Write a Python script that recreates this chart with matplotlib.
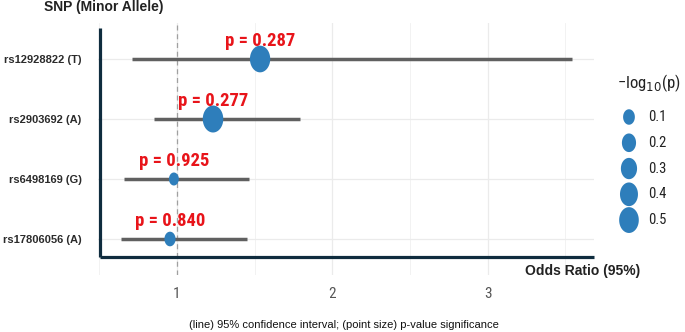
import numpy as np
import matplotlib
matplotlib.use("Agg")
import matplotlib.pyplot as plt
import matplotlib.transforms as mtransforms

plt.rcParams['font.family'] = ['Liberation Sans', 'DejaVu Sans']
NARROW = ['Roboto Condensed', 'Barlow Semi Condensed', 'Liberation Sans']

# data, top row first
snps = ["rs12928822 (T)", "rs2903692 (A)", "rs6498169 (G)", "rs17806056 (A)"]
odds_ratio = [1.535, 1.232, 0.980, 0.955]
ci_low = [0.708, 0.852, 0.658, 0.637]
ci_high = [3.542, 1.790, 1.466, 1.453]
p_values = [0.287, 0.277, 0.925, 0.840]
legend_breaks = [0.1, 0.2, 0.3, 0.4, 0.5]
x_ticks = [1, 2, 3]

blue = "#2E7EBB"
navy = "#0F2C3E"
dpi = 100

neglog = -np.log10(np.array(p_values))
rows = np.arange(len(snps), 0, -1)  # 4 .. 1

# area-proportional size scale (diameter in px), like scale_size in ggplot
d_min, d_max = 13.0, 27.0
v_min, v_max = neglog.min(), neglog.max()


def diam(v):
    a = d_min ** 2 + (d_max ** 2 - d_min ** 2) * (np.asarray(v) - v_min) / (v_max - v_min)
    return np.sqrt(np.clip(a, d_min ** 2, None))


def s_pts(d_px):
    return (np.asarray(d_px) * 72.0 / dpi) ** 2


# slightly tall ellipse, as in the source picture
t = np.linspace(0, 2 * np.pi, 60)
ellipse = np.column_stack([0.76 * np.cos(t), np.sin(t)])

fig = plt.figure(figsize=(6.85, 3.32), dpi=dpi)
ax = fig.add_axes([0.1432, 0.1717, 0.7244, 0.759])

ax.set_xlim(0.492, 3.687)
ax.set_ylim(0.4, 4.6)

# grid
for x in [0.5, 1.5, 2.5, 3.5]:
    ax.axvline(x, color="#F0F0F0", lw=0.6, zorder=0)
for x in x_ticks:
    ax.axvline(x, color="#EBEBEB", lw=0.9, zorder=0)
for y in rows:
    ax.axhline(y, color="#EBEBEB", lw=0.9, zorder=0)
ax.axvline(1, color="#A0A0A0", lw=0.9, ls=(0, (4, 3)), zorder=1)

# confidence intervals and points
ax.hlines(rows, ci_low, ci_high, color="#606060", lw=2.5, zorder=2)
ax.scatter(odds_ratio, rows, s=s_pts(diam(neglog)), marker=ellipse,
           color=blue, edgecolors="none", zorder=3)

for x, y, p in zip(odds_ratio, rows, p_values):
    ax.annotate(f"p = {p:.3f}", (x, y), xytext=(0, 9.6), textcoords="offset points",
                ha="center", va="baseline", color="#E8141A", fontsize=13.4,
                fontweight="bold", family=NARROW, zorder=4)

ax.set_xticks(x_ticks)
ax.set_xticklabels([str(x) for x in x_ticks], family=NARROW,
                   fontsize=11, color="#555555")
ax.set_yticks(rows)
ax.set_yticklabels(snps, fontsize=8.0, fontweight="bold", color="#2B2B2B")
ax.tick_params(axis="x", length=0, pad=9)
ax.tick_params(axis="y", length=0, pad=12)
for sp in ax.spines.values():
    sp.set_visible(False)

ax.set_xlabel("Odds Ratio (95%)", fontsize=10, fontweight="bold", color="#222222")
ax.xaxis.set_label_coords(1.092, 0.016)
ax.xaxis.label.set_ha("right")
ax.xaxis.label.set_va("center")
ax.set_ylabel("SNP (Minor Allele)", fontsize=10, fontweight="bold", color="#222222",
              rotation=0)
ax.yaxis.set_label_coords(0.012, 1.062)
ax.yaxis.label.set_ha("center")
ax.yaxis.label.set_va("center")

# dark L-shaped axis lines drawn over the panel
trans = mtransforms.blended_transform_factory(ax.transData, ax.transAxes)
ax.plot([0.505, 0.505], [0.071, 0.98], color=navy, lw=2.3, transform=trans,
        clip_on=False, solid_capstyle="butt", zorder=5)
ax.plot([0.505, 3.685], [0.071, 0.071], color=navy, lw=2.3, transform=trans,
        clip_on=False, solid_capstyle="butt", zorder=5)

# size legend
lax = fig.add_axes([610 / 685, 1 - 235 / 332, 75 / 685, 135 / 332])
lax.set_xlim(0, 1)
lax.set_ylim(5.58, 0.34)
lax.axis("off")
ly = np.arange(1, len(legend_breaks) + 1)
lax.scatter(np.full(len(ly), 0.253), ly, s=s_pts(diam(legend_breaks)), marker=ellipse,
            color=blue, edgecolors="none", clip_on=False)
for y, b in zip(ly, legend_breaks):
    lax.text(0.507, y, f"{b:.1f}", ha="left", va="center", fontsize=10.5,
             family=NARROW, color="#222222")
lax.text(0.52, -0.32, "\u2212log$_{10}$(p)", ha="center", va="center",
         fontsize=12, family=NARROW, color="#222222", clip_on=False)

fig.text(344 / 685, 1 - 325 / 332,
         "(line) 95% confidence interval; (point size) p-value significance",
         ha="center", va="center", fontsize=8.0, color="#111111")

fig.savefig("out.png", dpi=dpi)
